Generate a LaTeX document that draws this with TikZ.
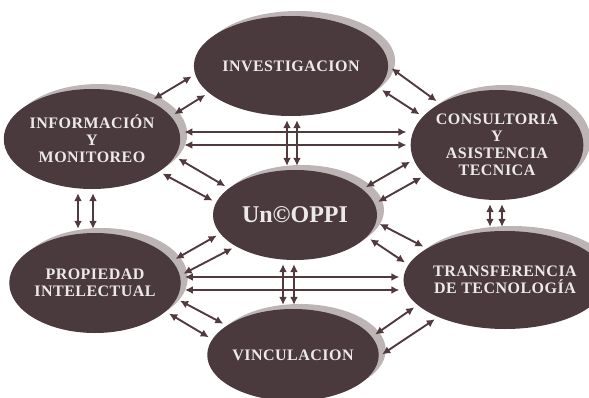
\documentclass[tikz,border=0pt]{standalone}
\usepackage{fontspec}
\setmainfont{Liberation Serif}
\usetikzlibrary{arrows.meta,shapes.geometric,shadows}

\definecolor{blob}{HTML}{4B3A3D}
\definecolor{blobshadow}{HTML}{BDB5B5}
\definecolor{ink}{HTML}{503A3E}
\definecolor{label}{HTML}{EDE9E9}

\begin{document}
\begin{tikzpicture}[x=1pt,y=-1pt,
    area/.style={ellipse,fill=blob,inner sep=0pt,text=label,align=center,
      font=\bfseries\fontsize{16}{17}\selectfont\addfontfeatures{LetterSpace=3},
      drop shadow={shadow xshift=7pt,shadow yshift=5pt,fill=blobshadow,opacity=1}},
    link/.style={draw=ink,line width=1.9pt,
      {Latex[length=8pt,width=8pt]}-{Latex[length=8pt,width=8pt]},
      shorten <=4pt,shorten >=4pt}
  ]
  \useasboundingbox (0,0) rectangle (589,397);

  % The office in the middle
  \node[area,minimum width=164pt,minimum height=90pt,
    font=\bfseries\fontsize{24}{26}\selectfont] (un) at (295,215) {Un©OPPI};

  % Areas around it
  \node[area,minimum width=168pt,minimum height=100pt] (inv) at (291,66) {INVESTIGACION};
  \node[area,minimum width=166pt,minimum height=100pt] (inf) at (92,139) {INFORMACIÓN\\Y\\MONITOREO};
  \node[area,minimum width=166pt,minimum height=110pt] (con) at (497,145) {CONSULTORIA\\Y\\ASISTENCIA\\TECNICA};
  \node[area,minimum width=166pt,minimum height=100pt] (prop) at (95,283) {PROPIEDAD\\INTELECTUAL};
  \node[area,minimum width=168pt,minimum height=98pt] (trans) at (505,280) {TRANSFERENCIA\\DE TECNOLOGÍA};
  \node[area,minimum width=168pt,minimum height=92pt] (vinc) at (293,355) {VINCULACION};

  % Diagonal pairs
  \draw[link] (inf.33) -- (inv.185);
  \draw[link] (inf.16) -- (inv.198);
  \draw[link] (inv.0) -- (con.144);
  \draw[link] (inv.-14) -- (con.159);
  \draw[link] (inf.-12) -- (un.158);
  \draw[link] (inf.-26) -- (un.171);
  \draw[link] (un.21) -- (con.190);
  \draw[link] (un.8) -- (con.203);
  \draw[link] (prop.16) -- (un.194);
  \draw[link] (prop.5) -- (un.208);
  \draw[link] (un.-5) -- (trans.158);
  \draw[link] (un.-17) -- (trans.171);
  \draw[link] (prop.-11) -- (vinc.156);
  \draw[link] (prop.-22) -- (vinc.169);
  \draw[link] (vinc.13) -- (trans.196);
  \draw[link] (vinc.-1) -- (trans.209);

  % Straight pairs
  \draw[link] (inf.east |- 0,132) -- (con.west |- 0,132);
  \draw[link] (inf.east |- 0,145) -- (con.west |- 0,145);
  \draw[link] (prop.east |- 0,277) -- (trans.west |- 0,277);
  \draw[link] (prop.east |- 0,290) -- (trans.west |- 0,290);
  \draw[link] (inv.south -| 287,0) -- (un.north -| 287,0);
  \draw[link] (inv.south -| 297,0) -- (un.north -| 297,0);
  \draw[link] (un.south -| 283,0) -- (vinc.north -| 283,0);
  \draw[link] (un.south -| 294,0) -- (vinc.north -| 294,0);
  \draw[link] (inf.south -| 78,0) -- (prop.north -| 78,0);
  \draw[link] (inf.south -| 93,0) -- (prop.north -| 93,0);
  \draw[link] (con.south -| 490,0) -- (trans.north -| 490,0);
  \draw[link] (con.south -| 502,0) -- (trans.north -| 502,0);

\end{tikzpicture}
\end{document}
